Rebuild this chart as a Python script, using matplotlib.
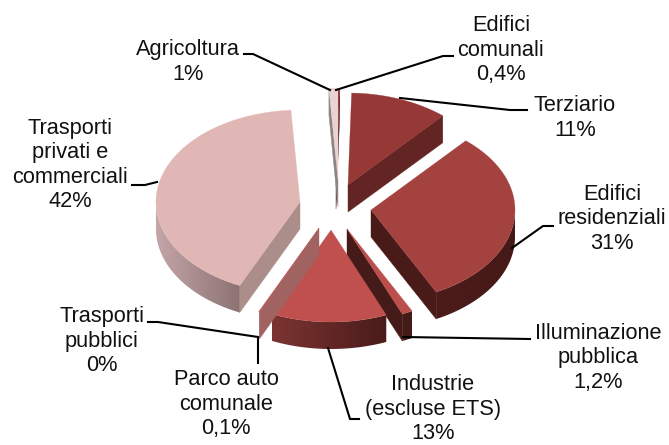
import numpy as np
import matplotlib
matplotlib.use("Agg")
import matplotlib.pyplot as plt
from matplotlib.colors import to_rgb
from matplotlib.patches import Polygon

plt.rcParams['font.family'] = ['Liberation Sans', 'DejaVu Sans']

# data
labels = ["Edifici\ncomunali\n0,4%", "Terziario\n11%", "Edifici\nresidenziali\n31%",
          "Illuminazione\npubblica\n1,2%", "Industrie\n(escluse ETS)\n13%",
          "Parco auto\ncomunale\n0,1%", "Trasporti\npubblici\n0%",
          "Trasporti\nprivati e\ncommerciali\n42%", "Agricoltura\n1%"]
values = [0.4, 11, 31, 1.2, 13, 0.1, 0, 42, 1]

# layout, in pixels of the 669x445 picture
apex = [(336, 182), (348, 185), (371, 210), (347, 229), (331, 230),
        (319, 228), (319, 228), (300, 202), (338, 180)]
label_pos = [(501, 50), (575, 118), (612, 219), (598, 358), (433, 409),
             (226, 404), (102, 341), (70, 165), (188, 62)]
leaders = [[(453, 56), (443, 56), (336, 90)],
           [(527, 110), (510, 110), (400, 98)],
           [(553, 226), (543, 226), (512, 248)],
           [(530, 339), (403, 337)],
           [(359, 419), (350, 419), (328, 348)],
           [(258, 337), (258, 363)],
           [(148, 322), (158, 322), (258, 337)],
           [(132, 185), (145, 185), (157, 182)],
           [(244, 54), (253, 54), (330, 90)]]

top_colors = ["#8B2A2A", "#953836", "#A3423F", "#BC4F4C", "#C0504D",
              "#C0504D", "#C0504D", "#E0B7B5", "#EAD3D2"]
cut_colors = ["#5A1E1C", "#632523", "#481A18", "#451B19", "#4A1C1A",
              "#A06362", "#A06362", "#AB8E8A", "#8E8484"]
wall_left = ["#5A1E1C", "#632523", "#4C1C1A", "#451B19", "#7C3432",
             "#A06362", "#A06362", "#C4A5A8", "#8E8484"]
wall_right = ["#5A1E1C", "#632523", "#451918", "#451B19", "#491B1A",
              "#A06362", "#A06362", "#8C7372", "#8E8484"]
draw_order = [8, 0, 1, 7, 2, 5, 3, 4]

RX, RY, DEPTH = 144, 92, 27


def rim(center, a):
    a = np.radians(a)
    return center[0] + RX * np.sin(a), center[1] - RY * np.cos(a)


fig = plt.figure(figsize=(6.69, 4.45), dpi=100)
ax = fig.add_axes([0, 0, 1, 1])

edges = np.concatenate([[0], np.cumsum(values)]) / np.sum(values) * 360

for i in draw_order:
    a0, a1 = edges[i], edges[i + 1]
    c = apex[i]
    arc = np.linspace(a0, a1, max(2, int((a1 - a0) * 2)))
    xs, ys = rim(c, arc)

    # flat cut faces that turn towards the viewer
    for a, visible in ((a0, np.sin(np.radians(a0)) < 0), (a1, np.sin(np.radians(a1)) > 0)):
        if visible:
            x, y = rim(c, a)
            ax.fill([c[0], x, x, c[0]], [c[1], y, y + DEPTH, c[1] + DEPTH],
                    color=cut_colors[i], lw=0.3, zorder=i)

    # outer wall, gradient image clipped to the wall shape
    front = np.cos(np.radians(arc)) < 0
    if front.sum() > 1:
        fx, fy = xs[front], ys[front]
        left, right = np.array(to_rgb(wall_left[i])), np.array(to_rgb(wall_right[i]))
        t = np.linspace(0, 1, 128)[None, :, None]
        grad = left[None, None, :] + (right - left)[None, None, :] * t
        im = ax.imshow(grad, extent=(fx.min(), fx.max(), fy.max() + DEPTH, fy.min()),
                       aspect='auto', zorder=i, interpolation='bilinear')
        wall = Polygon(np.c_[np.r_[fx, fx[::-1]], np.r_[fy, fy[::-1] + DEPTH]],
                       transform=ax.transData, facecolor='none', edgecolor='none')
        ax.add_patch(wall)
        im.set_clip_path(wall)

    ax.fill(np.r_[c[0], xs], np.r_[c[1], ys], color=top_colors[i], lw=0.2, zorder=i + 0.5)

for line in leaders:
    px, py = zip(*line)
    ax.plot(px, py, color='black', lw=1.5, solid_joinstyle='miter', zorder=20)

for text, (x, y) in zip(labels, label_pos):
    ax.text(x, y, text, ha='center', va='center', fontsize=15.7, color='#111111',
            linespacing=1.22, zorder=21, clip_on=False)

ax.set_xlim(0, 669)
ax.set_ylim(445, 0)
ax.axis('off')

fig.savefig("out.png", dpi=100)
